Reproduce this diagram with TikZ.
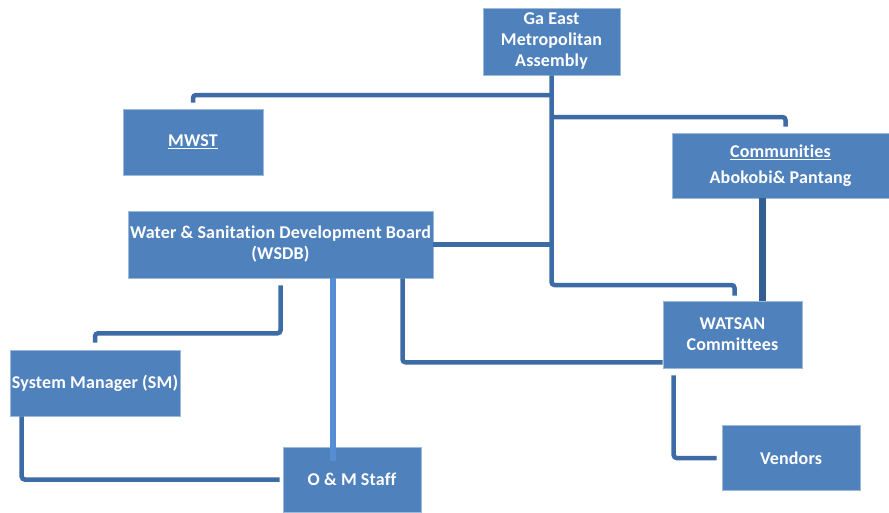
\documentclass[tikz,border=0pt]{standalone}
\usepackage{fontspec}
\setmainfont[LetterSpace=0.8, Ligatures={NoCommon}]{Carlito}
\usetikzlibrary{positioning}

\definecolor{boxblue}{HTML}{4F81BD}
\definecolor{linkblue}{HTML}{3D6BA5}
\definecolor{lightlink}{HTML}{558ED5}
\definecolor{darklink}{HTML}{345F93}

\tikzset{
    orgbox/.style={rectangle, fill=boxblue, draw=boxblue!55!white, line width=0.6pt,
        text=white, font=\bfseries\fontsize{18}{21}\selectfont, align=center, inner sep=0pt},
    link/.style={draw=linkblue, line width=4.5pt, rounded corners=3pt},
    lightlinkline/.style={draw=lightlink, line width=6pt},
    darklinkline/.style={draw=darklink, line width=7pt}
}

\begin{document}
\begin{tikzpicture}[x=1pt, y=-1pt]
    \useasboundingbox (0,0) rectangle (889,512);

    % Boxes
    \node[orgbox, minimum width=137pt, minimum height=67pt] (gaeast) at (551.5,41.5)
        {Ga East\\Metropolitan\\Assembly};
    \node[orgbox, minimum width=140pt, minimum height=66pt] (mwst) at (193,142)
        {\underline{MWST}};
    \node[orgbox, minimum width=217pt, minimum height=65pt] (comm) at (780.5,165.5)
        {\underline{Communities}\\[5pt]Abokobi\& Pantang};
    \node[orgbox, minimum width=305pt, minimum height=67pt] (wsdb) at (280.5,244.5)
        {Water \& Sanitation Development Board\\(WSDB)};
    \node[orgbox, minimum width=139pt, minimum height=67pt] (watsan) at (732.5,334.5)
        {WATSAN\\Committees};
    \node[orgbox, minimum width=170pt, minimum height=66pt] (sm) at (95,383)
        {System Manager (SM)};
    \node[orgbox, minimum width=138pt, minimum height=65pt] (vendors) at (791,458)
        {Vendors};
    \node[orgbox, minimum width=138pt, minimum height=65pt] (om) at (352,479.5)
        {O \& M Staff};

    % Trunk from the assembly
    \draw[link, shorten >=5pt]
        (gaeast.south)
        -- (gaeast.south |- 0,285)
        -| ([xshift=2pt]watsan.north);
    \draw[link, shorten >=6pt]
        (gaeast.south |- 0,95)
        -| (mwst.north);
    \draw[link, shorten >=6pt]
        (gaeast.south |- 0,117)
        -| ([xshift=5pt]comm.north);
    \draw[link]
        (wsdb.east)
        -- (wsdb.east -| gaeast.south);

    % Communities to WATSAN
    \draw[darklinkline]
        ([xshift=-18pt]comm.south)
        -- ([xshift=-18pt]comm.south |- watsan.north);

    % Below the board
    \draw[link, shorten <=7pt, shorten >=7pt]
        (wsdb.south)
        -- ++(0,55)
        -| (sm.north);
    \draw[lightlinkline, shorten >=-14pt]
        ([xshift=52pt]wsdb.south)
        -- ([xshift=52pt]wsdb.south |- om.north);
    \draw[link]
        ([xshift=122pt]wsdb.south)
        |- ([yshift=6pt]watsan.south west);

    % System manager to staff
    \draw[link, shorten >=3pt]
        ([xshift=12pt]sm.south west)
        |- (om.west);

    % WATSAN to vendors
    \draw[link, shorten <=7pt, shorten >=5pt]
        ([xshift=11pt]watsan.south west)
        |- (vendors.west);
\end{tikzpicture}
\end{document}
